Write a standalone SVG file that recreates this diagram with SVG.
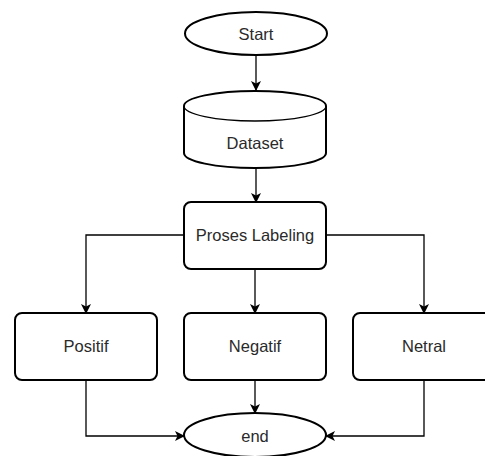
<svg xmlns="http://www.w3.org/2000/svg" width="485" height="456" viewBox="0 0 485 456">
<style>
.n{fill:#fff;stroke:#000;stroke-width:2}
.t{font-family:"Liberation Sans",Arial,sans-serif;font-size:16.5px;fill:#2a2a2a;text-anchor:middle;dominant-baseline:central}
.c{fill:none;stroke:#000;stroke-width:1.3}
</style>
<defs>
<marker id="a" markerWidth="10" markerHeight="10" refX="9" refY="5" orient="auto" markerUnits="userSpaceOnUse">
<path d="M0,0 L10,5 L0,10 L2.5,5 Z" fill="#000"/>
</marker>
</defs>
<rect width="485" height="456" fill="#fff"/>
<g id="connectors">
<path class="c" d="M256,55 V90" marker-end="url(#a)"/>
<path class="c" d="M256,168 V202" marker-end="url(#a)"/>
<path class="c" d="M183,235 H86 V313" marker-end="url(#a)"/>
<path class="c" d="M255,269 V313" marker-end="url(#a)"/>
<path class="c" d="M326,235 H424 V313" marker-end="url(#a)"/>
<path class="c" d="M86,380 V436 H184" marker-end="url(#a)"/>
<path class="c" d="M255,380 V413" marker-end="url(#a)"/>
<path class="c" d="M424,380 V436 H326" marker-end="url(#a)"/>
</g>
<g id="start">
<ellipse class="n" cx="256" cy="33.5" rx="71" ry="21.5"/>
<text class="t" x="256" y="34">Start</text>
</g>
<g id="dataset">
<path class="n" stroke-width="1.3" d="M184,106 A71,15 0 0 1 326,106 V153 A71,15 0 0 1 184,153 Z"/>
<path fill="none" stroke="#000" stroke-width="1.3" d="M184,106 A71,15 0 0 0 326,106"/>
<text class="t" x="255" y="143">Dataset</text>
</g>
<g id="labeling">
<rect class="n" x="184" y="202" width="142" height="67" rx="7"/>
<text class="t" x="255" y="235">Proses Labeling</text>
</g>
<g id="positif">
<rect class="n" x="15" y="313" width="142" height="67" rx="7"/>
<text class="t" x="86" y="346">Positif</text>
</g>
<g id="negatif">
<rect class="n" x="184" y="313" width="142" height="67" rx="7"/>
<text class="t" x="255" y="346">Negatif</text>
</g>
<g id="netral">
<rect class="n" x="353" y="313" width="142" height="67" rx="7"/>
<text class="t" x="424" y="346">Netral</text>
</g>
<g id="end">
<ellipse class="n" cx="255" cy="435" rx="71" ry="22"/>
<text class="t" x="255" y="436">end</text>
</g>
</svg>
